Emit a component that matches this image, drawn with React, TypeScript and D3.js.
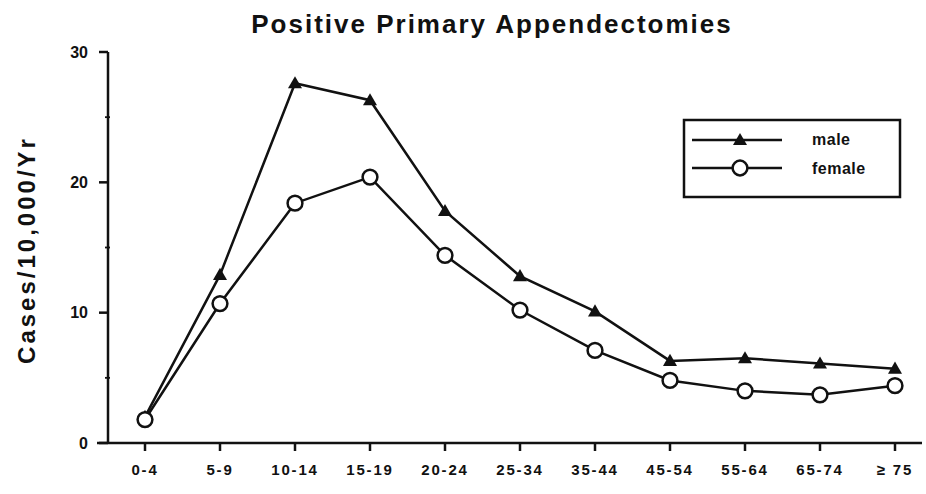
import * as d3 from "d3";

const ageGroups = ["0-4", "5-9", "10-14", "15-19", "20-24", "25-34", "35-44", "45-54", "55-64", "65-74", "≥ 75"];
const maleRates = [2.0, 12.9, 27.6, 26.3, 17.8, 12.8, 10.1, 6.3, 6.5, 6.1, 5.7];
const femaleRates = [1.8, 10.7, 18.4, 20.4, 14.4, 10.2, 7.1, 4.8, 4.0, 3.7, 4.4];
const majorTicks = [0, 10, 20, 30];
const minorTicks = [5, 15, 25];

const W = 926;
const H = 494;
const font = "'Liberation Sans', Arial, Helvetica, sans-serif";

export default function App() {
  const x = d3.scalePoint<string>().domain(ageGroups).range([145, 895]);
  const y = d3.scaleLinear().domain([0, 30]).range([443, 52]);
  const axisLeft = 108;
  const axisRight = 922;

  const line = d3
    .line<number>()
    .x((_, i) => x(ageGroups[i]) as number)
    .y((d) => y(d));

  const tri = d3.symbol().type(d3.symbolTriangle).size(85);

  return (
    <svg
      width={W}
      height={H}
      style={{ position: "absolute", left: 0, top: 0, background: "#fff" }}
      fontFamily={font}
    >
      <text x={492} y={33} textAnchor="middle" fontSize={26} fontWeight="bold" letterSpacing={2} fill="#111">
        Positive Primary Appendectomies
      </text>

      <text
        transform={`translate(35,250) rotate(-90)`}
        textAnchor="middle"
        fontSize={24}
        fontWeight="bold"
        letterSpacing={3}
        fill="#111"
      >
        Cases/10,000/Yr
      </text>

      {/* y axis */}
      <g stroke="#111" strokeWidth={2.5}>
        <line x1={axisLeft} x2={axisLeft} y1={y(30)} y2={y(0) + 1} />
        {majorTicks.map((t) => (
          <line key={t} x1={axisLeft - 9} x2={axisLeft} y1={y(t)} y2={y(t)} />
        ))}
        {minorTicks.map((t) => (
          <line key={t} x1={axisLeft - 3} x2={axisLeft + 2} y1={y(t)} y2={y(t)} strokeWidth={1.8} />
        ))}
      </g>
      {majorTicks.map((t) => (
        <text
          key={t}
          x={axisLeft - 20}
          y={y(t)}
          dy="0.36em"
          textAnchor="end"
          fontSize={16}
          fontWeight="bold"
          fill="#111"
        >
          {t}
        </text>
      ))}

      {/* x axis */}
      <g stroke="#111" strokeWidth={2.5}>
        <line x1={axisLeft - 11} x2={axisRight} y1={y(0)} y2={y(0)} />
        {ageGroups.map((g) => (
          <line key={g} x1={x(g)} x2={x(g)} y1={y(0)} y2={y(0) + 8} />
        ))}
      </g>
      {ageGroups.map((g) => (
        <text
          key={g}
          x={x(g)}
          y={475}
          textAnchor="middle"
          fontSize={15}
          fontWeight="bold"
          letterSpacing={1.8}
          fill="#111"
        >
          {g}
        </text>
      ))}

      {/* male */}
      <path d={line(maleRates) ?? ""} fill="none" stroke="#111" strokeWidth={2.5} />
      {maleRates.map((v, i) => (
        <path
          key={i}
          d={tri() ?? ""}
          transform={`translate(${x(ageGroups[i])},${y(v) + 1})`}
          fill="#111"
        />
      ))}

      {/* female */}
      <path d={line(femaleRates) ?? ""} fill="none" stroke="#111" strokeWidth={2.5} />
      {femaleRates.map((v, i) => (
        <circle
          key={i}
          cx={x(ageGroups[i])}
          cy={y(v)}
          r={7.4}
          fill="#fff"
          stroke="#111"
          strokeWidth={2.5}
        />
      ))}

      {/* legend */}
      <rect x={684} y={120} width={216} height={77} fill="#fff" stroke="#111" strokeWidth={2.5} />
      <line x1={692} x2={782} y1={140} y2={140} stroke="#111" strokeWidth={2.5} />
      <path d={tri() ?? ""} transform="translate(740,141)" fill="#111" />
      <text x={812} y={145} fontSize={16} fontWeight="bold" letterSpacing={0.5} fill="#111">
        male
      </text>
      <line x1={692} x2={782} y1={168} y2={168} stroke="#111" strokeWidth={2.5} />
      <circle cx={740} cy={168} r={7.4} fill="#fff" stroke="#111" strokeWidth={2.5} />
      <text x={812} y={174} fontSize={16} fontWeight="bold" letterSpacing={0.5} fill="#111">
        female
      </text>
    </svg>
  );
}
